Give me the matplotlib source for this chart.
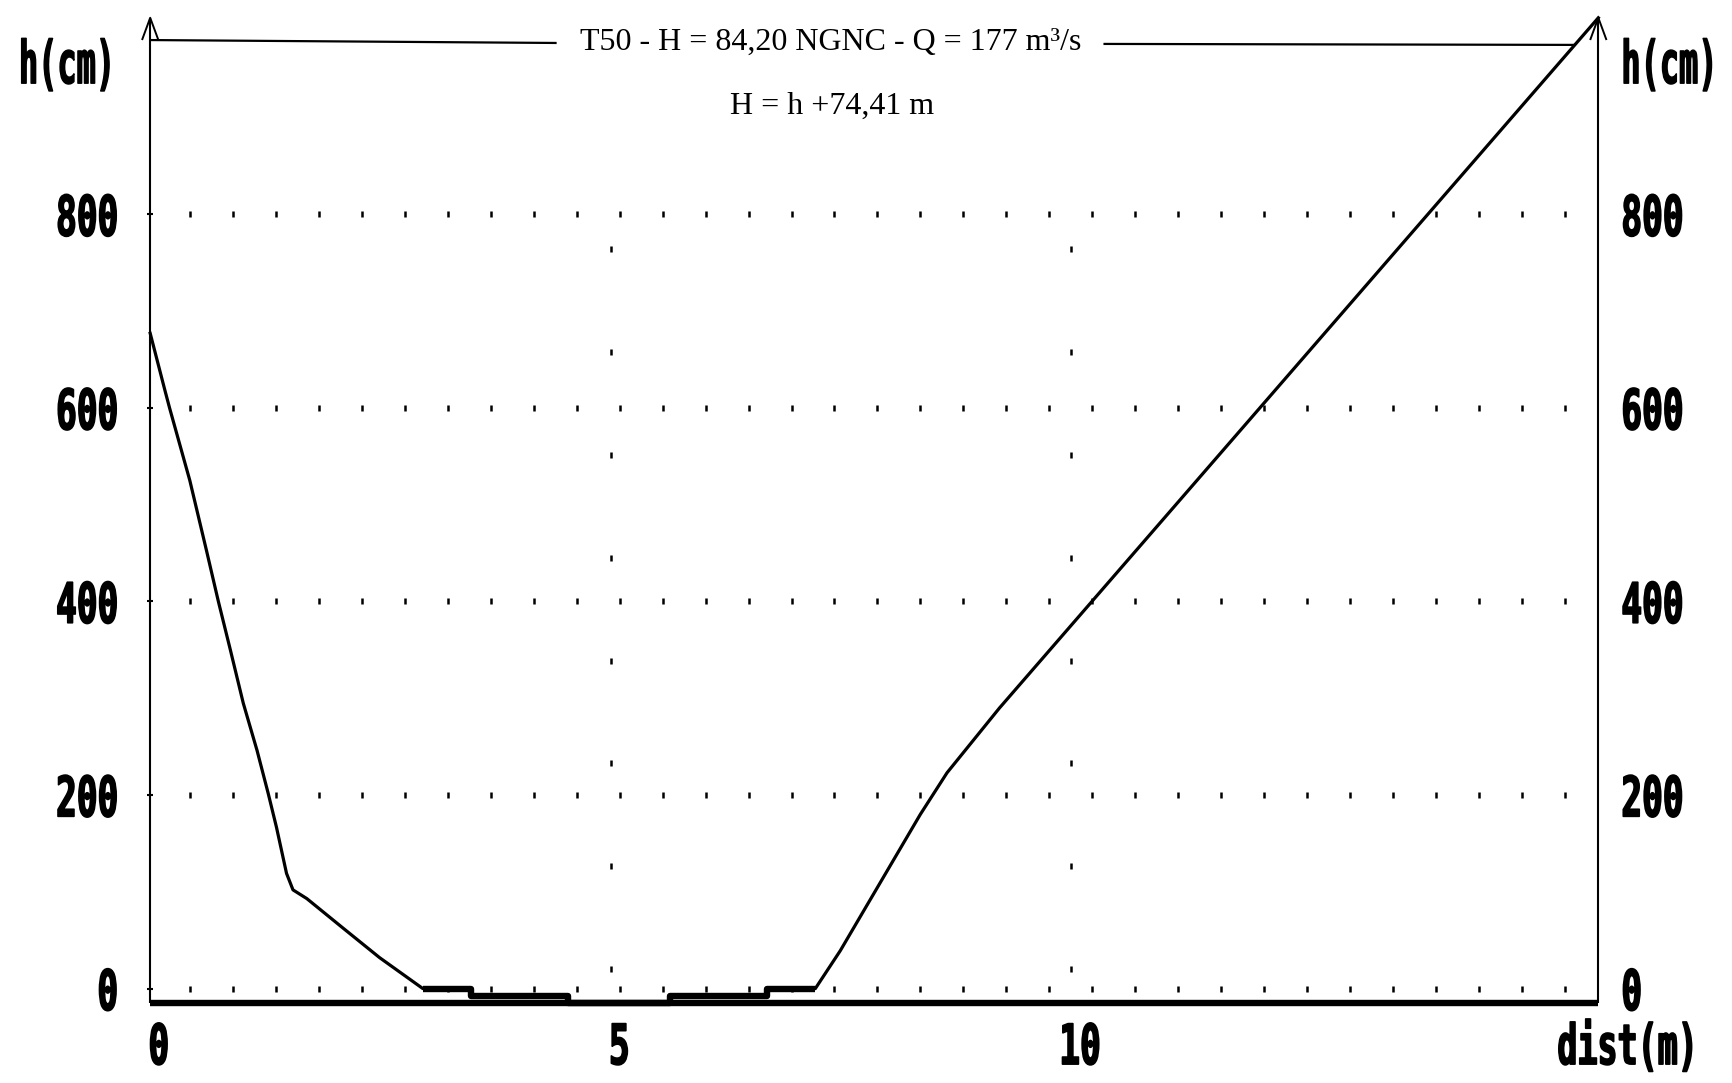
import numpy as np
import matplotlib
matplotlib.use("Agg")
import matplotlib.pyplot as plt
from matplotlib.patheffects import AbstractPathEffect
from matplotlib.transforms import Affine2D

# ---------------- data ----------------
dist_m = [0.00, 0.16, 0.21, 0.43, 0.61, 0.74, 0.87, 1.01, 1.16, 1.28, 1.37, 1.48,
          1.55, 1.70, 2.10, 2.49, 2.96, 3.48, 3.48, 4.54, 4.54, 5.64, 5.64, 6.70,
          6.70, 7.22, 7.49, 8.36, 8.65, 9.22, 15.72]
h_cm = [677, 618, 600, 525, 453, 400, 350, 295, 246, 202, 167, 119,
        102, 93, 62, 32, 0, 0, -8, -8, -15, -15, -8, -8,
        0, 0, 39, 180, 223, 290, 1003]

x_ticks = [0, 5, 10]
x_tick_labels = ["0", "5", "10"]
y_ticks = [0, 200, 400, 600, 800]
y_tick_labels = ["0", "200", "400", "600", "800"]
x_max = 15.72          # right vertical axis position (m)
y_top = 1003           # top of vertical axes (cm)
baseline = -15         # thick bottom line level (cm)

title = "T50 - H = 84,20 NGNC - Q = 177 m³/s"
subtitle = "H = h +74,41 m"
y_label = "h(cm)"
x_label = "dist(m)"


# --------- condensed rendering of text (text stays real text) ---------
class Squeeze(AbstractPathEffect):
    def __init__(self, sx, anchor="center", stroke=0.0, sy=1.0):
        super().__init__()
        self.sx = sx
        self.sy = sy
        self.anchor = anchor
        self.stroke = stroke

    def draw_path(self, renderer, gc, tpath, affine, rgbFace=None):
        verts = affine.transform(tpath.vertices)
        if len(verts) == 0:
            return
        xmin, xmax = verts[:, 0].min(), verts[:, 0].max()
        ymid = 0.5 * (verts[:, 1].min() + verts[:, 1].max())
        a = {"left": xmin, "right": xmax, "center": 0.5 * (xmin + xmax)}[self.anchor]
        sq = (Affine2D().translate(-a, -ymid).scale(self.sx, self.sy)
              .translate(a, ymid))
        gc0 = renderer.new_gc()
        gc0.copy_properties(gc)
        if self.stroke > 0 and rgbFace is not None:
            gc0.set_linewidth(self.stroke)
            gc0.set_foreground(rgbFace)
        renderer.draw_path(gc0, tpath, affine + sq, rgbFace)
        gc0.restore()


W, H = 1732, 1083
fig = plt.figure(figsize=(W / 100, H / 100), dpi=100)
ax = fig.add_axes([0, 0, 1, 1])
ax.set_axis_off()

# pixel mapping (full-size reference)
px_x0, px_per_m = 150.2, 92.12
px_y0, px_per_cm = 988.6, 0.9679
ax.set_xlim(-px_x0 / px_per_m, (W - px_x0) / px_per_m)
ax.set_ylim(-(H - px_y0) / px_per_cm, px_y0 / px_per_cm)

k = "black"

# dotted grid rows (small vertical tick marks)
dots_x = 0.432 + 0.4664 * np.arange(33)
for yv in y_ticks:
    ax.plot(dots_x, np.full_like(dots_x, yv), ls="none", marker="|",
            ms=5, mew=1.8, color=k)
# dotted vertical grid at 5 and 10
dots_y = 20 + 106.3 * np.arange(8)
for xv in x_ticks[1:]:
    ax.plot(np.full_like(dots_y, xv), dots_y, ls="none", marker="|",
            ms=5, mew=1.8, color=k)
# small nubs on the left axis
ax.plot(np.zeros(len(y_ticks)), y_ticks, ls="none", marker="_", ms=4, mew=1.5, color=k)

# axes lines
ax.plot([0, 0], [baseline, y_top], color=k, lw=1.5, solid_capstyle="butt")
ax.plot([x_max, x_max], [baseline, y_top], color=k, lw=1.5, solid_capstyle="butt")
for xa in (0, x_max):
    ax.plot([xa - 0.085, xa, xa + 0.085], [y_top - 22, y_top, y_top - 22],
            color=k, lw=1.4)
ax.plot([0, x_max], [baseline, baseline], color=k, lw=4.6, solid_capstyle="butt")

# title lines
ax.plot([0, 4.40], [980, 977], color=k, lw=1.6)
ax.plot([10.36, 15.46], [976, 975], color=k, lw=1.6)

# profile
ax.plot(dist_m, h_cm, color=k, lw=2.3, solid_joinstyle="round")
bx = [d for d, v in zip(dist_m, h_cm) if v <= 0]
by = [v for v in h_cm if v <= 0]
ax.plot(bx, by, color=k, lw=4.6, solid_capstyle="butt")

# tick labels (DOS-like condensed bold)
tick_font = dict(family="DejaVu Sans Mono", weight="bold", size=40, color=k)
for yv, lab in zip(y_ticks, y_tick_labels):
    ax.text(-0.335, yv - 6, lab, ha="right", va="center",
            path_effects=[Squeeze(0.62, "right", 1.2)], **tick_font)
    ax.text(15.97, yv - 6, lab, ha="left", va="center",
            path_effects=[Squeeze(0.62, "left", 1.2)], **tick_font)
for xv, lab in zip(x_ticks, x_tick_labels):
    ax.text(xv + 0.1, -62, lab, ha="center", va="center",
            path_effects=[Squeeze(0.62, "center", 1.2)], **tick_font)

label_font = dict(family="DejaVu Sans Mono", weight="bold", size=23, color=k)
ax.text(-0.38, 953, y_label, ha="right", va="center",
        path_effects=[Squeeze(1.0, "right", 1.0, sy=1.85)], **label_font)
ax.text(15.97, 953, y_label, ha="left", va="center",
        path_effects=[Squeeze(1.0, "left", 1.0, sy=1.85)], **label_font)
ax.text(16.84, -62, x_label, ha="right", va="center",
        path_effects=[Squeeze(0.6, "right", 1.2)], **tick_font)

# titles
ax.text(7.39, 978, title, ha="center", va="center",
        family="Liberation Serif", size=23, color=k)
ax.text(7.40, 912, subtitle, ha="center", va="center",
        family="Liberation Serif", size=23, color=k)

fig.savefig("out.png", dpi=100, facecolor="white")
